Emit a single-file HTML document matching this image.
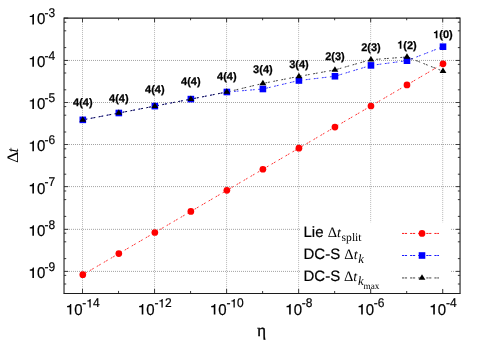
<!DOCTYPE html>
<html><head><meta charset="utf-8"><title>chart</title>
<style>html,body{margin:0;padding:0;background:#fff;}svg{display:block;}text{font-family:"Liberation Sans",sans-serif;fill:#000;text-rendering:geometricPrecision;}.se{font-family:"Liberation Serif",serif;}.b{font-weight:bold;font-size:11px;text-anchor:middle;stroke:#000;stroke-width:0.25px;}</style></head><body>
<svg width="487" height="341" viewBox="0 0 487 341" style="will-change:transform">
<defs><filter id="gs" x="0" y="0" width="487" height="341" filterUnits="userSpaceOnUse" color-interpolation-filters="sRGB"><feOffset dx="0" dy="0"/></filter></defs>
<g filter="url(#gs)">
<g stroke="#a4a4a4" stroke-width="1" stroke-dasharray="1 1" fill="none">
<line x1="82.50" y1="18.08" x2="82.50" y2="293.1" stroke="#b8b8b8"/>
<line x1="154.54" y1="18.08" x2="154.54" y2="293.1" stroke="#b8b8b8"/>
<line x1="226.58" y1="18.08" x2="226.58" y2="293.1" stroke="#b8b8b8"/>
<line x1="298.62" y1="18.08" x2="298.62" y2="293.1" stroke="#b8b8b8"/>
<line x1="370.66" y1="18.08" x2="370.66" y2="293.1" stroke="#b8b8b8"/>
<line x1="442.70" y1="18.08" x2="442.70" y2="293.1" stroke="#b8b8b8"/>
<line x1="65" y1="60.45" x2="460.05" y2="60.45"/>
<line x1="65" y1="102.50" x2="460.05" y2="102.50"/>
<line x1="65" y1="144.50" x2="460.05" y2="144.50"/>
<line x1="65" y1="186.60" x2="460.05" y2="186.60"/>
<line x1="65" y1="229.35" x2="460.05" y2="229.35"/>
<line x1="65" y1="271.40" x2="460.05" y2="271.40"/>
</g>
<rect x="300.4" y="222.3" width="150.6" height="66.6" fill="#fff"/>
<g stroke="#404040" stroke-width="1.05" fill="none">
<line x1="82.50" y1="293.1" x2="82.50" y2="288.90000000000003"/>
<line x1="82.50" y1="18.08" x2="82.50" y2="22.279999999999998"/>
<line x1="118.52" y1="293.1" x2="118.52" y2="290.90000000000003"/>
<line x1="118.52" y1="18.08" x2="118.52" y2="20.279999999999998"/>
<line x1="154.54" y1="293.1" x2="154.54" y2="288.90000000000003"/>
<line x1="154.54" y1="18.08" x2="154.54" y2="22.279999999999998"/>
<line x1="190.56" y1="293.1" x2="190.56" y2="290.90000000000003"/>
<line x1="190.56" y1="18.08" x2="190.56" y2="20.279999999999998"/>
<line x1="226.58" y1="293.1" x2="226.58" y2="288.90000000000003"/>
<line x1="226.58" y1="18.08" x2="226.58" y2="22.279999999999998"/>
<line x1="262.60" y1="293.1" x2="262.60" y2="290.90000000000003"/>
<line x1="262.60" y1="18.08" x2="262.60" y2="20.279999999999998"/>
<line x1="298.62" y1="293.1" x2="298.62" y2="288.90000000000003"/>
<line x1="298.62" y1="18.08" x2="298.62" y2="22.279999999999998"/>
<line x1="334.64" y1="293.1" x2="334.64" y2="290.90000000000003"/>
<line x1="334.64" y1="18.08" x2="334.64" y2="20.279999999999998"/>
<line x1="370.66" y1="293.1" x2="370.66" y2="288.90000000000003"/>
<line x1="370.66" y1="18.08" x2="370.66" y2="22.279999999999998"/>
<line x1="406.68" y1="293.1" x2="406.68" y2="290.90000000000003"/>
<line x1="406.68" y1="18.08" x2="406.68" y2="20.279999999999998"/>
<line x1="442.70" y1="293.1" x2="442.70" y2="288.90000000000003"/>
<line x1="442.70" y1="18.08" x2="442.70" y2="22.279999999999998"/>
<line x1="64.03" y1="18.08" x2="68.23" y2="18.08"/>
<line x1="460.05" y1="18.08" x2="455.85" y2="18.08"/>
<line x1="64.03" y1="60.45" x2="68.23" y2="60.45"/>
<line x1="460.05" y1="60.45" x2="455.85" y2="60.45"/>
<line x1="64.03" y1="102.50" x2="68.23" y2="102.50"/>
<line x1="460.05" y1="102.50" x2="455.85" y2="102.50"/>
<line x1="64.03" y1="144.50" x2="68.23" y2="144.50"/>
<line x1="460.05" y1="144.50" x2="455.85" y2="144.50"/>
<line x1="64.03" y1="186.60" x2="68.23" y2="186.60"/>
<line x1="460.05" y1="186.60" x2="455.85" y2="186.60"/>
<line x1="64.03" y1="229.35" x2="68.23" y2="229.35"/>
<line x1="460.05" y1="229.35" x2="455.85" y2="229.35"/>
<line x1="64.03" y1="271.40" x2="68.23" y2="271.40"/>
<line x1="460.05" y1="271.40" x2="455.85" y2="271.40"/>
<line x1="64.03" y1="47.60" x2="66.23" y2="47.60"/>
<line x1="460.05" y1="47.60" x2="457.85" y2="47.60"/>
<line x1="64.03" y1="30.80" x2="66.23" y2="30.80"/>
<line x1="460.05" y1="30.80" x2="457.85" y2="30.80"/>
<line x1="64.03" y1="22.19" x2="66.23" y2="22.19"/>
<line x1="460.05" y1="22.19" x2="457.85" y2="22.19"/>
<line x1="64.03" y1="89.80" x2="66.23" y2="89.80"/>
<line x1="460.05" y1="89.80" x2="457.85" y2="89.80"/>
<line x1="64.03" y1="73.00" x2="66.23" y2="73.00"/>
<line x1="460.05" y1="73.00" x2="457.85" y2="73.00"/>
<line x1="64.03" y1="64.39" x2="66.23" y2="64.39"/>
<line x1="460.05" y1="64.39" x2="457.85" y2="64.39"/>
<line x1="64.03" y1="132.00" x2="66.23" y2="132.00"/>
<line x1="460.05" y1="132.00" x2="457.85" y2="132.00"/>
<line x1="64.03" y1="115.20" x2="66.23" y2="115.20"/>
<line x1="460.05" y1="115.20" x2="457.85" y2="115.20"/>
<line x1="64.03" y1="106.59" x2="66.23" y2="106.59"/>
<line x1="460.05" y1="106.59" x2="457.85" y2="106.59"/>
<line x1="64.03" y1="174.20" x2="66.23" y2="174.20"/>
<line x1="460.05" y1="174.20" x2="457.85" y2="174.20"/>
<line x1="64.03" y1="157.40" x2="66.23" y2="157.40"/>
<line x1="460.05" y1="157.40" x2="457.85" y2="157.40"/>
<line x1="64.03" y1="148.79" x2="66.23" y2="148.79"/>
<line x1="460.05" y1="148.79" x2="457.85" y2="148.79"/>
<line x1="64.03" y1="216.40" x2="66.23" y2="216.40"/>
<line x1="460.05" y1="216.40" x2="457.85" y2="216.40"/>
<line x1="64.03" y1="199.60" x2="66.23" y2="199.60"/>
<line x1="460.05" y1="199.60" x2="457.85" y2="199.60"/>
<line x1="64.03" y1="190.99" x2="66.23" y2="190.99"/>
<line x1="460.05" y1="190.99" x2="457.85" y2="190.99"/>
<line x1="64.03" y1="258.60" x2="66.23" y2="258.60"/>
<line x1="460.05" y1="258.60" x2="457.85" y2="258.60"/>
<line x1="64.03" y1="241.80" x2="66.23" y2="241.80"/>
<line x1="460.05" y1="241.80" x2="457.85" y2="241.80"/>
<line x1="64.03" y1="233.19" x2="66.23" y2="233.19"/>
<line x1="460.05" y1="233.19" x2="457.85" y2="233.19"/>
<line x1="64.03" y1="284.00" x2="66.23" y2="284.00"/>
<line x1="460.05" y1="284.00" x2="457.85" y2="284.00"/>
<line x1="64.03" y1="275.39" x2="66.23" y2="275.39"/>
<line x1="460.05" y1="275.39" x2="457.85" y2="275.39"/>
</g>
<polyline points="82.80,274.70 118.82,253.61 154.84,232.52 190.86,211.43 226.88,190.34 262.90,169.25 298.92,148.16 334.94,127.07 370.96,105.98 406.98,84.89 443.00,63.80" fill="none" stroke="#ff0000" stroke-width="0.8" stroke-dasharray="1.85 0.85 1.85 3.55"/>
<polyline points="82.80,119.85 118.82,113.00 154.84,106.10 190.86,99.10 226.88,92.00 262.90,89.00 298.92,80.50 334.94,76.25 370.96,65.40 406.98,60.70 443.00,46.70" fill="none" stroke="#0000ff" stroke-width="0.8" stroke-dasharray="1.85 0.85 1.85 3.55"/>
<polyline points="82.80,119.85 118.82,113.00 154.84,106.10 190.86,99.10 226.88,92.00 262.90,83.40 298.92,76.40 334.94,69.90 370.96,59.70 406.98,57.00 443.00,71.20" fill="none" stroke="#000" stroke-width="0.75" stroke-dasharray="1.85 0.85 1.85 3.55"/>
<circle cx="82.80" cy="274.70" r="3.35" fill="#ff0000"/>
<circle cx="118.82" cy="253.61" r="3.35" fill="#ff0000"/>
<circle cx="154.84" cy="232.52" r="3.35" fill="#ff0000"/>
<circle cx="190.86" cy="211.43" r="3.35" fill="#ff0000"/>
<circle cx="226.88" cy="190.34" r="3.35" fill="#ff0000"/>
<circle cx="262.90" cy="169.25" r="3.35" fill="#ff0000"/>
<circle cx="298.92" cy="148.16" r="3.35" fill="#ff0000"/>
<circle cx="334.94" cy="127.07" r="3.35" fill="#ff0000"/>
<circle cx="370.96" cy="105.98" r="3.35" fill="#ff0000"/>
<circle cx="406.98" cy="84.89" r="3.35" fill="#ff0000"/>
<circle cx="443.00" cy="63.80" r="3.35" fill="#ff0000"/>
<rect x="79.50" y="116.55" width="6.6" height="6.6" fill="#0000ff"/>
<rect x="115.52" y="109.70" width="6.6" height="6.6" fill="#0000ff"/>
<rect x="151.54" y="102.80" width="6.6" height="6.6" fill="#0000ff"/>
<rect x="187.56" y="95.80" width="6.6" height="6.6" fill="#0000ff"/>
<rect x="223.58" y="88.70" width="6.6" height="6.6" fill="#0000ff"/>
<rect x="259.60" y="85.70" width="6.6" height="6.6" fill="#0000ff"/>
<rect x="295.62" y="77.20" width="6.6" height="6.6" fill="#0000ff"/>
<rect x="331.64" y="72.95" width="6.6" height="6.6" fill="#0000ff"/>
<rect x="367.66" y="62.10" width="6.6" height="6.6" fill="#0000ff"/>
<rect x="403.68" y="57.40" width="6.6" height="6.6" fill="#0000ff"/>
<rect x="439.70" y="43.40" width="6.6" height="6.6" fill="#0000ff"/>
<path d="M82.80,116.15 L86.20,121.65 L79.40,121.65Z" fill="#000"/>
<path d="M118.82,109.30 L122.22,114.80 L115.42,114.80Z" fill="#000"/>
<path d="M154.84,102.40 L158.24,107.90 L151.44,107.90Z" fill="#000"/>
<path d="M190.86,95.40 L194.26,100.90 L187.46,100.90Z" fill="#000"/>
<path d="M226.88,88.30 L230.28,93.80 L223.48,93.80Z" fill="#000"/>
<path d="M262.90,79.70 L266.30,85.20 L259.50,85.20Z" fill="#000"/>
<path d="M298.92,72.70 L302.32,78.20 L295.52,78.20Z" fill="#000"/>
<path d="M334.94,66.20 L338.34,71.70 L331.54,71.70Z" fill="#000"/>
<path d="M370.96,56.00 L374.36,61.50 L367.56,61.50Z" fill="#000"/>
<path d="M406.98,53.30 L410.38,58.80 L403.58,58.80Z" fill="#000"/>
<path d="M443.00,67.50 L446.40,73.00 L439.60,73.00Z" fill="#000"/>
<path d="M64.03,293.40000000000003 L64.03,18.08 L460.05,18.08 L460.05,293.40000000000003" fill="none" stroke="#202020" stroke-width="1.12" stroke-linejoin="miter"/>
<line x1="63.53" y1="293.45000000000005" x2="460.55" y2="293.45000000000005" stroke="#1c1c1c" stroke-width="1.05"/>
<text x="73.02" y="105.80" font-size="11" font-weight="bold" stroke="#000" stroke-width="0.25">4(4)</text>
<text x="109.04" y="101.50" font-size="11" font-weight="bold" stroke="#000" stroke-width="0.25">4(4)</text>
<text x="145.06" y="93.00" font-size="11" font-weight="bold" stroke="#000" stroke-width="0.25">4(4)</text>
<text x="181.08" y="85.30" font-size="11" font-weight="bold" stroke="#000" stroke-width="0.25">4(4)</text>
<text x="217.10" y="80.00" font-size="11" font-weight="bold" stroke="#000" stroke-width="0.25">4(4)</text>
<text x="253.12" y="73.30" font-size="11" font-weight="bold" stroke="#000" stroke-width="0.25">3(4)</text>
<text x="289.14" y="67.50" font-size="11" font-weight="bold" stroke="#000" stroke-width="0.25">3(4)</text>
<text x="325.16" y="59.60" font-size="11" font-weight="bold" stroke="#000" stroke-width="0.25">2(3)</text>
<text x="361.18" y="50.50" font-size="11" font-weight="bold" stroke="#000" stroke-width="0.25">2(3)</text>
<path transform="translate(397.20,48.70) scale(1.0000)" d="M2.55,0H4.2V-7.85H3.0C2.9,-7.0 2.2,-6.4 0.7,-6.3V-5.15H2.55Z" fill="#000"/>
<text x="403.32" y="48.70" font-size="11" font-weight="bold" stroke="#000" stroke-width="0.25">(2)</text>
<path transform="translate(433.22,38.35) scale(1.0000)" d="M2.55,0H4.2V-7.85H3.0C2.9,-7.0 2.2,-6.4 0.7,-6.3V-5.15H2.55Z" fill="#000"/>
<text x="439.34" y="38.35" font-size="11" font-weight="bold" stroke="#000" stroke-width="0.25">(0)</text>
<path transform="translate(65.89,314.60) scale(1.0000)" d="M3.8,0H5.4V-10.55H4.35C4.2,-9.5 3.2,-8.6 1.2,-8.5V-7.4H3.8Z" fill="#000"/>
<text transform="translate(74.23,314.60) scale(1,1.05)" font-size="15" stroke="#000" stroke-width="0.2">0</text>
<text transform="translate(82.37,307.40) scale(1,1.05)" font-size="12" stroke="#000" stroke-width="0.2">-</text>
<path transform="translate(86.37,307.40) scale(0.8000)" d="M3.8,0H5.4V-10.55H4.35C4.2,-9.5 3.2,-8.6 1.2,-8.5V-7.4H3.8Z" fill="#000"/>
<text transform="translate(93.04,307.40) scale(1,1.05)" font-size="12" stroke="#000" stroke-width="0.2">4</text>
<path transform="translate(137.93,314.60) scale(1.0000)" d="M3.8,0H5.4V-10.55H4.35C4.2,-9.5 3.2,-8.6 1.2,-8.5V-7.4H3.8Z" fill="#000"/>
<text transform="translate(146.27,314.60) scale(1,1.05)" font-size="15" stroke="#000" stroke-width="0.2">0</text>
<text transform="translate(154.41,307.40) scale(1,1.05)" font-size="12" stroke="#000" stroke-width="0.2">-</text>
<path transform="translate(158.41,307.40) scale(0.8000)" d="M3.8,0H5.4V-10.55H4.35C4.2,-9.5 3.2,-8.6 1.2,-8.5V-7.4H3.8Z" fill="#000"/>
<text transform="translate(165.08,307.40) scale(1,1.05)" font-size="12" stroke="#000" stroke-width="0.2">2</text>
<path transform="translate(209.97,314.60) scale(1.0000)" d="M3.8,0H5.4V-10.55H4.35C4.2,-9.5 3.2,-8.6 1.2,-8.5V-7.4H3.8Z" fill="#000"/>
<text transform="translate(218.31,314.60) scale(1,1.05)" font-size="15" stroke="#000" stroke-width="0.2">0</text>
<text transform="translate(226.45,307.40) scale(1,1.05)" font-size="12" stroke="#000" stroke-width="0.2">-</text>
<path transform="translate(230.45,307.40) scale(0.8000)" d="M3.8,0H5.4V-10.55H4.35C4.2,-9.5 3.2,-8.6 1.2,-8.5V-7.4H3.8Z" fill="#000"/>
<text transform="translate(237.12,307.40) scale(1,1.05)" font-size="12" stroke="#000" stroke-width="0.2">0</text>
<path transform="translate(285.35,314.60) scale(1.0000)" d="M3.8,0H5.4V-10.55H4.35C4.2,-9.5 3.2,-8.6 1.2,-8.5V-7.4H3.8Z" fill="#000"/>
<text transform="translate(293.69,314.60) scale(1,1.05)" font-size="15" stroke="#000" stroke-width="0.2">0</text>
<text transform="translate(301.83,307.40) scale(1,1.05)" font-size="12" stroke="#000" stroke-width="0.2">-8</text>
<path transform="translate(357.39,314.60) scale(1.0000)" d="M3.8,0H5.4V-10.55H4.35C4.2,-9.5 3.2,-8.6 1.2,-8.5V-7.4H3.8Z" fill="#000"/>
<text transform="translate(365.73,314.60) scale(1,1.05)" font-size="15" stroke="#000" stroke-width="0.2">0</text>
<text transform="translate(373.87,307.40) scale(1,1.05)" font-size="12" stroke="#000" stroke-width="0.2">-6</text>
<path transform="translate(429.43,314.60) scale(1.0000)" d="M3.8,0H5.4V-10.55H4.35C4.2,-9.5 3.2,-8.6 1.2,-8.5V-7.4H3.8Z" fill="#000"/>
<text transform="translate(437.77,314.60) scale(1,1.05)" font-size="15" stroke="#000" stroke-width="0.2">0</text>
<text transform="translate(445.91,307.40) scale(1,1.05)" font-size="12" stroke="#000" stroke-width="0.2">-4</text>
<path transform="translate(28.55,24.45) scale(1.0000)" d="M3.8,0H5.4V-10.55H4.35C4.2,-9.5 3.2,-8.6 1.2,-8.5V-7.4H3.8Z" fill="#000"/>
<text transform="translate(36.89,24.45) scale(1,1.05)" font-size="15" stroke="#000" stroke-width="0.2">0</text>
<text transform="translate(44.53,17.25) scale(1,1.05)" font-size="12" stroke="#000" stroke-width="0.2">-3</text>
<path transform="translate(28.55,66.72) scale(1.0000)" d="M3.8,0H5.4V-10.55H4.35C4.2,-9.5 3.2,-8.6 1.2,-8.5V-7.4H3.8Z" fill="#000"/>
<text transform="translate(36.89,66.72) scale(1,1.05)" font-size="15" stroke="#000" stroke-width="0.2">0</text>
<text transform="translate(44.53,59.52) scale(1,1.05)" font-size="12" stroke="#000" stroke-width="0.2">-4</text>
<path transform="translate(28.55,108.99) scale(1.0000)" d="M3.8,0H5.4V-10.55H4.35C4.2,-9.5 3.2,-8.6 1.2,-8.5V-7.4H3.8Z" fill="#000"/>
<text transform="translate(36.89,108.99) scale(1,1.05)" font-size="15" stroke="#000" stroke-width="0.2">0</text>
<text transform="translate(44.53,101.79) scale(1,1.05)" font-size="12" stroke="#000" stroke-width="0.2">-5</text>
<path transform="translate(28.55,151.26) scale(1.0000)" d="M3.8,0H5.4V-10.55H4.35C4.2,-9.5 3.2,-8.6 1.2,-8.5V-7.4H3.8Z" fill="#000"/>
<text transform="translate(36.89,151.26) scale(1,1.05)" font-size="15" stroke="#000" stroke-width="0.2">0</text>
<text transform="translate(44.53,144.06) scale(1,1.05)" font-size="12" stroke="#000" stroke-width="0.2">-6</text>
<path transform="translate(28.55,193.53) scale(1.0000)" d="M3.8,0H5.4V-10.55H4.35C4.2,-9.5 3.2,-8.6 1.2,-8.5V-7.4H3.8Z" fill="#000"/>
<text transform="translate(36.89,193.53) scale(1,1.05)" font-size="15" stroke="#000" stroke-width="0.2">0</text>
<text transform="translate(44.53,186.33) scale(1,1.05)" font-size="12" stroke="#000" stroke-width="0.2">-7</text>
<path transform="translate(28.55,235.80) scale(1.0000)" d="M3.8,0H5.4V-10.55H4.35C4.2,-9.5 3.2,-8.6 1.2,-8.5V-7.4H3.8Z" fill="#000"/>
<text transform="translate(36.89,235.80) scale(1,1.05)" font-size="15" stroke="#000" stroke-width="0.2">0</text>
<text transform="translate(44.53,228.60) scale(1,1.05)" font-size="12" stroke="#000" stroke-width="0.2">-8</text>
<path transform="translate(28.55,278.07) scale(1.0000)" d="M3.8,0H5.4V-10.55H4.35C4.2,-9.5 3.2,-8.6 1.2,-8.5V-7.4H3.8Z" fill="#000"/>
<text transform="translate(36.89,278.07) scale(1,1.05)" font-size="15" stroke="#000" stroke-width="0.2">0</text>
<text transform="translate(44.53,270.87) scale(1,1.05)" font-size="12" stroke="#000" stroke-width="0.2">-9</text>
<text class="se" x="261.5" y="335.8" font-size="17.5" text-anchor="middle" stroke="#000" stroke-width="0.3">η</text>
<text class="se" font-size="16" transform="translate(17.9,162.9) rotate(-90) scale(1.1,1)">Δ</text>
<text class="se" font-size="16" font-style="italic" transform="translate(17.9,152.4) rotate(-90)">t</text>
<text x="303.5" y="236.6" font-size="15" stroke="#000" stroke-width="0.2">Lie</text>
<text class="se" x="327.68" y="236.6" font-size="14.5">Δ<tspan font-style="italic" font-size="14">t</tspan></text>
<text class="se" x="341.6" y="241.2" font-size="11.6">split</text>
<text x="303.5" y="258.7" font-size="15" stroke="#000" stroke-width="0.2">DC-S</text>
<text class="se" x="344.33" y="258.7" font-size="14.5">Δ<tspan font-style="italic" font-size="14">t</tspan></text>
<text class="se" x="358.2" y="263.3" font-size="12.6" font-style="italic">k</text>
<text x="303.5" y="280.6" font-size="15" stroke="#000" stroke-width="0.2">DC-S</text>
<text class="se" x="343.93" y="280.6" font-size="14.5">Δ<tspan font-style="italic" font-size="14">t</tspan></text>
<text class="se" x="358.1" y="284.8" font-size="12.6" font-style="italic">k</text>
<text class="se" x="363.6" y="288.6" font-size="9.2">max</text>
<line x1="402" y1="233.45" x2="439" y2="233.45" stroke="#ff0000" stroke-width="0.9" stroke-dasharray="2.2 0.65 2.2 3.05"/>
<circle cx="422.00" cy="233.45" r="3.35" fill="#ff0000"/>
<line x1="402" y1="255.5" x2="439" y2="255.5" stroke="#0000ff" stroke-width="0.9" stroke-dasharray="2.2 0.65 2.2 3.05"/>
<rect x="418.70" y="252.20" width="6.6" height="6.6" fill="#0000ff"/>
<line x1="402" y1="277.95" x2="439" y2="277.95" stroke="#000" stroke-width="0.75" stroke-dasharray="2.2 0.65 2.2 3.05"/>
<path d="M422.00,274.25 L425.40,279.75 L418.60,279.75Z" fill="#000"/>
</g>
</svg></body></html>
